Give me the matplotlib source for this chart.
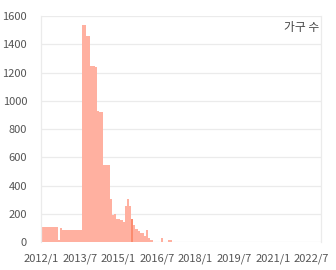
import matplotlib
matplotlib.use("Agg")
import matplotlib.pyplot as plt
import numpy as np

plt.rcParams['font.family'] = ['Noto Sans CJK KR', 'DejaVu Sans']

# monthly household counts starting 2012/1
start_year, start_month = 2012, 1
values = [110, 110, 110, 110, 110, 110, 110, 110, 15, 100,
          90, 90, 90, 90, 90, 90, 90, 90, 90, 1535,
          1535, 1460, 1460, 1250, 1250, 1240, 925, 920, 920, 550,
          550, 550, 305, 195, 203, 162, 162, 160, 142, 255,
          305, 260, 165, 125, 97, 82, 68, 65, 45, 87,
          30, 15, 5, 0, 0, 0, 33, 0, 0, 18,
          18]
highlight = 42  # hovered bar, drawn darker

tick_labels = ['2012/1', '2013/7', '2015/1', '2016/7',
               '2018/1', '2019/7', '2021/1', '2022/7']
title = '가구 수'

bar_col = '#ffb0a0'
hi_col = '#fb8b6e'
grid_col = '#ebebeb'
text_col = '#555555'

fig = plt.figure(figsize=(3.36, 2.70), dpi=100)
ax = fig.add_axes([41/336, 1-242.3/270, 280/336, (242.3-16)/270])

x = np.arange(len(values))
cols = [hi_col if i == highlight else bar_col for i in x]
ax.bar(x, values, width=1.0, align='edge', color=cols, linewidth=0, zorder=2)

ax.set_xlim(0, 130.5)
ax.set_ylim(0, 1600)
ax.set_yticks(np.arange(0, 1601, 200))
ax.set_xticks(np.arange(len(tick_labels)) * 18)
ax.set_xticklabels(tick_labels)

ax.grid(axis='y', color=grid_col, linewidth=0.9, zorder=0)
ax.tick_params(axis='both', length=0, labelsize=8, colors=text_col)
ax.tick_params(axis='y', pad=10)
ax.tick_params(axis='x', pad=8)
for s in ['top', 'bottom']:
    ax.spines[s].set_visible(False)
for s in ['left', 'right']:
    ax.spines[s].set_color(grid_col)
    ax.spines[s].set_linewidth(0.9)

ax.text(0.995, 0.95, title, transform=ax.transAxes, ha='right', va='center',
        fontsize=8.5, color='#444444')

fig.savefig('out.png', dpi=100)
